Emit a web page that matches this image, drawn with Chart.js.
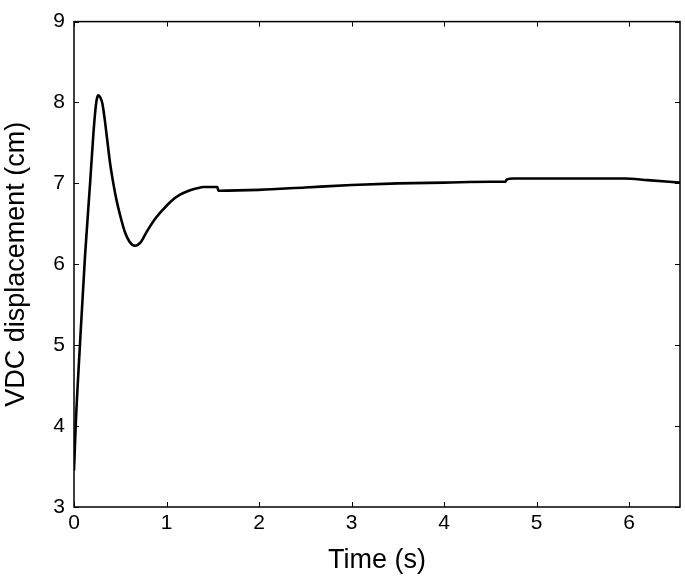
<!DOCTYPE html>
<html>
<head>
<meta charset="utf-8">
<script src="https://cdn.jsdelivr.net/npm/chart.js@4"></script>
<style>
  html, body { margin: 0; padding: 0; background: #fff; }
  #wrap { width: 685px; height: 578px; }
</style>
</head>
<body>
<div id="wrap"><canvas id="vdcChart"></canvas></div>
<script>
// time (s) and VDC displacement (cm)
const timeVals = [0, 0.02, 0.065, 0.12, 0.175, 0.21, 0.235, 0.25, 0.263, 0.285, 0.306, 0.33, 0.36, 0.39, 0.425, 0.46, 0.5, 0.55, 0.6, 0.66, 0.72, 0.785, 0.87, 0.965, 1.05, 1.146, 1.24, 1.33, 1.4, 1.55, 1.56, 2.0, 2.5, 3.0, 3.5, 4.0, 4.5, 4.66, 4.68, 4.75, 5.0, 5.5, 5.95, 6.2, 6.55];
const dispVals = [3.45, 4.05, 5.02, 6.12, 7.02, 7.62, 7.95, 8.06, 8.09, 8.06, 7.99, 7.81, 7.53, 7.25, 7.0, 6.79, 6.6, 6.4, 6.28, 6.23, 6.27, 6.4, 6.55, 6.68, 6.78, 6.86, 6.91, 6.94, 6.955, 6.955, 6.91, 6.92, 6.95, 6.98, 7.0, 7.01, 7.02, 7.02, 7.05, 7.06, 7.06, 7.06, 7.06, 7.04, 7.01];

const xTicks = [0, 1, 2, 3, 4, 5, 6];
const yTicks = [3, 4, 5, 6, 7, 8, 9];

const points = timeVals.map((t, i) => ({ x: t, y: dispVals[i] }));

// box around the plot with inward tick marks on all four sides
const frameTicks = {
    id: 'frameTicks',
    afterDraw(chart) {
        const ctx = chart.ctx;
        const a = chart.chartArea;
        const xs = chart.scales.x, ys = chart.scales.y;
        const len = 5;
        ctx.save();
        ctx.strokeStyle = '#000';
        ctx.lineWidth = 1;
        ctx.beginPath();
        xs.ticks.forEach(tk => {
            const px = Math.round(xs.getPixelForValue(tk.value)) + 0.5;
            ctx.moveTo(px, a.bottom); ctx.lineTo(px, a.bottom - len);
            ctx.moveTo(px, a.top); ctx.lineTo(px, a.top + len);
        });
        ys.ticks.forEach(tk => {
            const py = Math.round(ys.getPixelForValue(tk.value)) + 0.5;
            ctx.moveTo(a.left, py); ctx.lineTo(a.left + len, py);
            ctx.moveTo(a.right, py); ctx.lineTo(a.right - len, py);
        });
        ctx.stroke();
        ctx.lineWidth = 1.5;
        ctx.strokeRect(a.left, a.top, a.right - a.left, a.bottom - a.top);
        ctx.restore();
    }
};

new Chart(document.getElementById('vdcChart'), {
    type: 'line',
    data: {
        datasets: [{
            data: points,
            borderColor: '#000',
            borderWidth: 2.6,
            pointRadius: 0,
            fill: false,
            cubicInterpolationMode: 'monotone'
        }]
    },
    options: {
        responsive: true,
        maintainAspectRatio: false,
        animation: false,
        layout: {
            padding: { top: 12, right: 5, bottom: 0, left: 0 }
        },
        scales: {
            x: {
                type: 'linear',
                min: 0,
                max: 6.55,
                afterFit: s => { s.height = 71; },
                afterBuildTicks: s => { s.ticks = xTicks.map(v => ({ value: v })); },
                grid: { display: false, drawTicks: false },
                border: { display: false },
                ticks: {
                    color: '#000',
                    padding: 4,
                    font: { family: 'Liberation Sans', size: 21 }
                },
                title: {
                    display: true,
                    text: 'Time (s)',
                    color: '#000',
                    padding: { top: 4, bottom: 1 },
                    font: { family: 'Liberation Sans', size: 27 }
                }
            },
            y: {
                min: 3,
                max: 9,
                afterFit: s => { s.width = 74; },
                afterBuildTicks: s => { s.ticks = yTicks.map(v => ({ value: v })); },
                grid: { display: false, drawTicks: false },
                border: { display: false },
                ticks: {
                    color: '#000',
                    padding: 9,
                    font: { family: 'Liberation Sans', size: 21 }
                },
                title: {
                    display: true,
                    text: 'VDC displacement (cm)',
                    color: '#000',
                    padding: { top: 0, bottom: 0 },
                    font: { family: 'Liberation Sans', size: 27 }
                }
            }
        },
        plugins: {
            legend: { display: false },
            tooltip: { enabled: false }
        }
    },
    plugins: [frameTicks]
});
</script>
</body>
</html>
